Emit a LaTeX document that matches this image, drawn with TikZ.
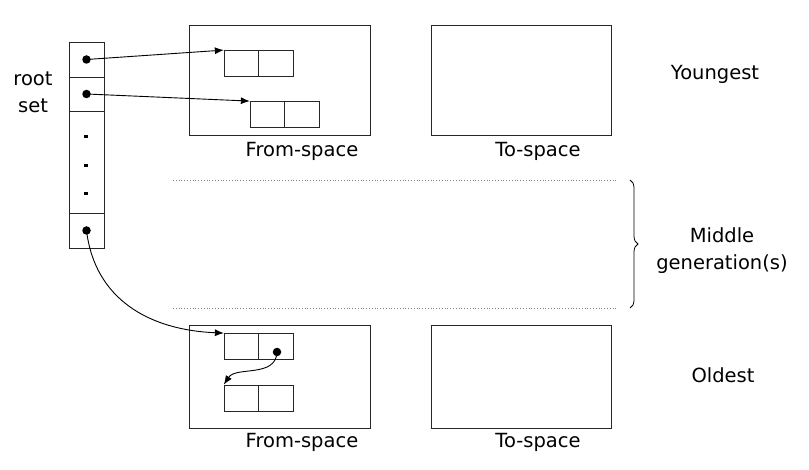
\documentclass[tikz,border=0pt]{standalone}
\usepackage{fontspec}
\setmainfont{DejaVu Sans}
\usetikzlibrary{arrows.meta, decorations.pathreplacing}

\begin{document}
\begin{tikzpicture}[x=1pt, y=-1pt, >={Latex[length=9pt, width=7pt]},
  every node/.style={font=\fontsize{19.5}{27}\selectfont},
  box/.style={draw=black!85, line width=0.8pt, inner sep=0pt},
  half/.style={box, minimum width=34.5pt, minimum height=26pt},
  ptr/.style={->, line width=0.9pt},
  dot/.style={circle, fill=black, inner sep=0pt, minimum size=8.5pt},
  gap/.style={gray, dotted, line width=0.8pt}]
  \useasboundingbox (0,0) rectangle (809,470);
  % root set
  \node[box, minimum width=35pt, minimum height=35pt] (root1) at (86.5,59.5) {};
  \node[box, minimum width=35pt, minimum height=34pt] (root2) at (86.5,94) {};
  \node[box, minimum width=35pt, minimum height=102pt] (root3) at (86.5,162) {};
  \node[box, minimum width=35pt, minimum height=35pt] (root4) at (86.5,230.5) {};
  \foreach \y in {135,164,192} \fill (84,\y) rectangle (87.5,\y+3.5);
  \node[align=center] (rootSet) at (33,92) {root\\set};
  \node[dot] (p1) at (root1.center) {};
  \node[dot] (p2) at (root2.center) {};
  \node[dot] (p4) at (root4.center) {};
  % youngest generation
  \node[box, minimum width=181pt, minimum height=110pt] (youngFrom) at (279.5,80) {};
  \node[box, minimum width=180pt, minimum height=110pt] (youngTo) at (521,80) {};
  \node (youngFromLbl) at (302,151) {From-space};
  \node (youngToLbl) at (538,151) {To-space};
  \node (youngest) at (715,74) {Youngest};
  \node[half] (a1) at (241.5,63.5) {};
  \node[half] (a2) at (276,63.5) {};
  \node[half] (b1) at (267.5,114.5) {};
  \node[half] (b2) at (302,114.5) {};
  \draw[ptr] (p1.center) -- (a1.north west);
  \draw[ptr] (p2.center) -- (b1.north west);
  % middle generation(s)
  \coordinate (midTop) at (630,180);
  \coordinate (midBot) at (630,308);
  \draw[gap] (173,180) -- (618,180);
  \draw[gap] (173,308) -- (618,308);
  \draw[decorate, decoration={brace, amplitude=8pt}, line width=0.8pt] (midTop) -- (midBot);
  \node[align=center] (middle) at (722,251) {Middle\\generation(s)};
  % oldest generation
  \node[box, minimum width=181pt, minimum height=103pt] (oldFrom) at (279.5,376.5) {};
  \node[box, minimum width=180pt, minimum height=103pt] (oldTo) at (521,376.5) {};
  \node (oldFromLbl) at (302,442) {From-space};
  \node (oldToLbl) at (538,442) {To-space};
  \node (oldest) at (723,375) {Oldest};
  \node[half] (c1) at (241.5,346.5) {};
  \node[half] (c2) at (276,346.5) {};
  \node[half] (d1) at (241.5,398) {};
  \node[half] (d2) at (276,398) {};
  \node[dot] (p5) at (277,352) {};
  \draw[ptr] (p4.center) .. controls (95,300) and (150,330) .. (c1.north west);
  \draw[ptr] (p5.center) .. controls (276,378) and (236,366) .. (d1.north west);
\end{tikzpicture}
\end{document}
